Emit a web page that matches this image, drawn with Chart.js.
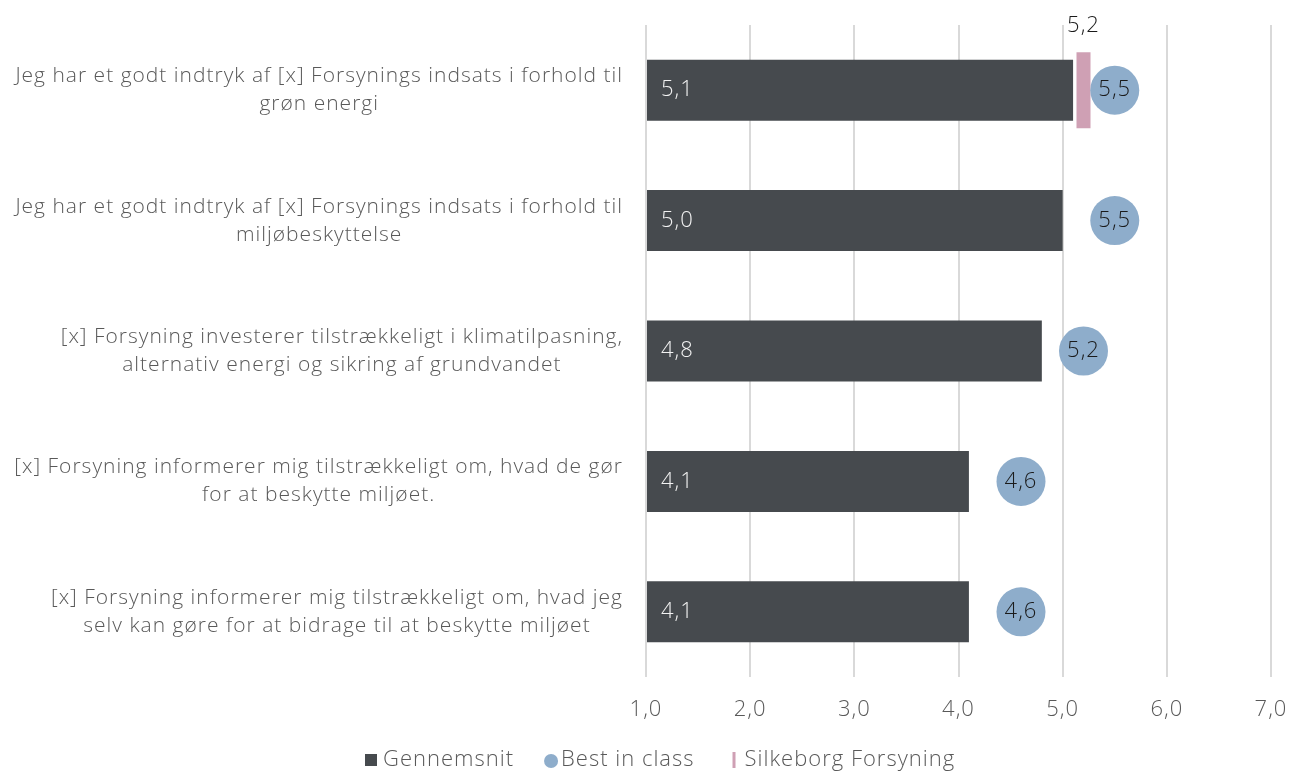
<!DOCTYPE html>
<html>
<head>
<meta charset="utf-8">
<script src="https://cdn.jsdelivr.net/npm/chart.js@4/dist/chart.umd.min.js"></script>
<style>
  html, body { margin: 0; padding: 0; background: #ffffff; }
  #wrap { width: 1291px; height: 773px; position: relative; }
</style>
</head>
<body>
<div id="wrap"><canvas id="c" width="1291" height="773"></canvas></div>
<script>
const categories = [
  ["Jeg har et godt indtryk af [x] Forsynings indsats i forhold til", "grøn energi"],
  ["Jeg har et godt indtryk af [x] Forsynings indsats i forhold til", "miljøbeskyttelse"],
  ["[x] Forsyning investerer tilstrækkeligt i klimatilpasning,", "alternativ energi og sikring af grundvandet"],
  ["[x] Forsyning informerer mig tilstrækkeligt om, hvad de gør", "for at beskytte miljøet."],
  ["[x] Forsyning informerer mig tilstrækkeligt om, hvad jeg", "selv kan gøre for at bidrage til at beskytte miljøet"]
];
const gennemsnit = [5.1, 5.0, 4.8, 4.1, 4.1];
const bestInClass = [5.5, 5.5, 5.2, 4.6, 4.6];
const silkeborg = [5.2, null, null, null, null];
const xTicks = [1, 2, 3, 4, 5, 6, 7];
const seriesNames = ["Gennemsnit", "Best in class", "Silkeborg Forsyning"];

const FONT = "'Open Sans', Lato, sans-serif";
const GREY = "#595959";
const DARK = "#464a4e";
const BLUE = "#8eadcb";
const PINK = "#cfa0b4";
const SPACING = "1px";
const fmt = v => v.toFixed(1).replace(".", ",");

const spacingPlugin = {
  id: "spacing",
  beforeUpdate(chart) { chart.ctx.letterSpacing = SPACING; },
  beforeLayout(chart) { chart.ctx.letterSpacing = SPACING; },
  beforeDraw(chart) { chart.ctx.letterSpacing = SPACING; }
};

// Category labels: each block right-aligned to the axis, lines centred within the block
const categoryLabelPlugin = {
  id: "categoryLabels",
  afterDraw(chart) {
    const ctx = chart.ctx;
    const ys = chart.scales.y;
    ctx.save();
    ctx.letterSpacing = SPACING;
    ctx.font = "300 21px " + FONT;
    ctx.fillStyle = GREY;
    ctx.textAlign = "center";
    ctx.textBaseline = "middle";
    const right = ys.right - 23;
    const lh = 28;
    chart.data.labels.forEach((lines, i) => {
      const y = ys.getPixelForTick(i);
      const maxW = Math.max(...lines.map(l => ctx.measureText(l).width));
      const cx = right - maxW / 2;
      const top = y - (lines.length - 1) * lh / 2;
      lines.forEach((l, j) => ctx.fillText(l, cx, top + j * lh));
    });
    ctx.restore();
  }
};

const labelPlugin = {
  id: "valueLabels",
  afterDatasetsDraw(chart) {
    const ctx = chart.ctx;
    const xs = chart.scales.x;
    ctx.save();
    ctx.letterSpacing = SPACING;
    ctx.font = "300 22px " + FONT;
    ctx.textBaseline = "middle";
    chart.getDatasetMeta(0).data.forEach((el, i) => {
      ctx.fillStyle = "#f2f2f2";
      ctx.textAlign = "left";
      ctx.fillText(fmt(gennemsnit[i]), xs.getPixelForValue(1) + 15, el.y);
    });
    chart.getDatasetMeta(1).data.forEach((el, i) => {
      ctx.fillStyle = "#1a1a1a";
      ctx.textAlign = "center";
      ctx.fillText(fmt(bestInClass[i]), el.x, el.y);
    });
    chart.getDatasetMeta(2).data.forEach((el, i) => {
      const v = chart.data.datasets[2].data[i].x;
      ctx.fillStyle = "#1a1a1a";
      ctx.textAlign = "center";
      ctx.fillText(fmt(v), el.x, el.y - 64);
    });
    ctx.restore();
  }
};

const legendPlugin = {
  id: "customLegend",
  afterDraw(chart) {
    const ctx = chart.ctx;
    ctx.save();
    ctx.letterSpacing = SPACING;
    ctx.font = "300 22px " + FONT;
    ctx.textBaseline = "middle";
    ctx.textAlign = "left";
    const cy = 760;
    let x = 365;
    ctx.fillStyle = DARK;
    ctx.fillRect(x, cy - 6, 12, 12);
    x += 18;
    ctx.fillStyle = GREY;
    ctx.fillText(seriesNames[0], x, cy);
    x += ctx.measureText(seriesNames[0]).width + 30;
    ctx.fillStyle = BLUE;
    ctx.beginPath();
    ctx.arc(x + 7, cy + 1, 7, 0, Math.PI * 2);
    ctx.fill();
    x += 17;
    ctx.fillStyle = GREY;
    ctx.fillText(seriesNames[1], x, cy);
    x += ctx.measureText(seriesNames[1]).width + 38;
    ctx.fillStyle = PINK;
    ctx.fillRect(x, cy - 8, 3, 16);
    x += 12;
    ctx.fillStyle = GREY;
    ctx.fillText(seriesNames[2], x, cy);
    ctx.restore();
  }
};

new Chart(document.getElementById("c"), {
  type: "bar",
  data: {
    labels: categories,
    datasets: [
      {
        type: "bar",
        label: seriesNames[0],
        data: gennemsnit,
        base: 1,
        backgroundColor: DARK,
        barPercentage: 0.585,
        categoryPercentage: 0.8,
        order: 3
      },
      {
        type: "line",
        label: seriesNames[1],
        data: bestInClass.map((v, i) => ({ x: v, y: categories[i] })),
        showLine: false,
        pointStyle: "circle",
        pointRadius: 24.5,
        pointHoverRadius: 24.5,
        pointBackgroundColor: BLUE,
        pointBorderWidth: 0,
        borderColor: BLUE,
        backgroundColor: BLUE,
        order: 1
      },
      {
        type: "line",
        label: seriesNames[2],
        data: silkeborg.map((v, i) => v === null ? null : ({ x: v, y: categories[i] })).filter(d => d !== null),
        showLine: false,
        pointStyle: "line",
        pointRotation: 90,
        pointRadius: 38,
        pointHoverRadius: 38,
        pointBorderWidth: 14,
        pointBorderColor: PINK,
        borderColor: PINK,
        backgroundColor: PINK,
        order: 2
      }
    ]
  },
  options: {
    indexAxis: "y",
    responsive: false,
    animation: false,
    layout: { autoPadding: false, padding: { top: 25, right: 20, left: 0, bottom: 43 } },
    scales: {
      x: {
        type: "linear",
        min: 1,
        max: 7,
        afterBuildTicks(axis) { axis.ticks = xTicks.map(v => ({ value: v })); },
        afterFit(axis) { axis.height = 53; axis.paddingLeft = 0; axis.paddingRight = 0; },
        grid: { color: "#d9d9d9", lineWidth: 2, drawTicks: false },
        border: { display: false },
        ticks: {
          color: GREY,
          font: { family: FONT, size: 22, weight: 300 },
          padding: 20,
          callback: v => fmt(v)
        }
      },
      y: {
        type: "category",
        afterFit(axis) { axis.width = 646; axis.paddingTop = 0; axis.paddingBottom = 0; },
        grid: { display: false },
        border: { display: false },
        ticks: { display: false }
      }
    },
    plugins: {
      tooltip: { enabled: false },
      legend: { display: false }
    }
  },
  plugins: [spacingPlugin, labelPlugin, categoryLabelPlugin, legendPlugin]
});
</script>
</body>
</html>
